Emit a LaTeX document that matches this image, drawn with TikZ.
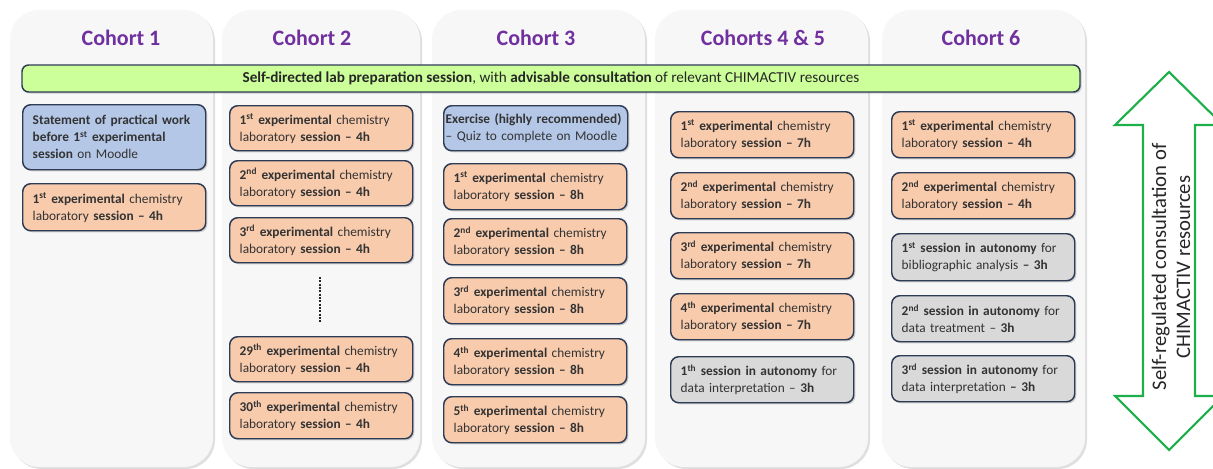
\documentclass[tikz,border=0pt]{standalone}
\usepackage{fontspec}
\setmainfont{Carlito}
\usetikzlibrary{shadows}

\definecolor{panelgray}{HTML}{F7F7F7}
\definecolor{titlepurple}{HTML}{7030A0}
\definecolor{barlime}{HTML}{CCFF99}
\definecolor{edgenavy}{HTML}{2E3B55}
\definecolor{moodleblue}{HTML}{B4C7E7}
\definecolor{labpeach}{HTML}{F8CBAD}
\definecolor{soloGray}{HTML}{D9D9D9}
\definecolor{arrowgreen}{HTML}{1DB04A}

\newcommand{\nth}[2]{#1\textsuperscript{#2}}

\begin{document}
\begin{tikzpicture}[line cap=round,line join=round,x=0.75pt,y=-0.75pt,
  panel/.style={fill=panelgray,rounded corners=22pt,
    drop shadow={shadow xshift=1.5pt,shadow yshift=-1.5pt,opacity=.25}},
  cohort/.style={font=\fontsize{16.5}{20}\selectfont\bfseries,text=titlepurple},
  sess/.style={draw=edgenavy,line width=1.1pt,rounded corners=6pt,anchor=north west,
    align=left,text width=122.25pt,inner xsep=7.5pt,inner ysep=2pt,minimum height=34.5pt,
    font=\fontsize{10}{12.75}\selectfont,text=black!80,
    drop shadow={shadow xshift=1.2pt,shadow yshift=-1.2pt,opacity=.35}},
  lab/.style={sess,fill=labpeach},
  moodle/.style={sess,fill=moodleblue},
  solo/.style={sess,fill=soloGray}]
\useasboundingbox (0,0) rectangle (1213,468);
\clip (0,0) rectangle (1213,468);

% cohort panels
\path[panel] (10,10) rectangle (213,467);
\path[panel] (222,10) rectangle (420,467);
\path[panel] (432,10) rectangle (645,467);
\path[panel] (655,10) rectangle (868,467);
\path[panel] (882,10) rectangle (1085,467);

\node[cohort] (c1) at (121,38) {Cohort 1};
\node[cohort] (c2) at (312,38) {Cohort 2};
\node[cohort] (c3) at (536,38) {Cohort 3};
\node[cohort] (c45) at (763,38) {Cohorts 4 \& 5};
\node[cohort] (c6) at (981,38) {Cohort 6};

% preparation bar
\node[draw=edgenavy,line width=1.1pt,fill=barlime,rounded corners=5pt,
  minimum width=793.5pt,minimum height=20.25pt,inner sep=0pt,
  font=\fontsize{11.4}{13}\selectfont,text=black!85,
  drop shadow={shadow xshift=1.2pt,shadow yshift=-1.2pt,opacity=.35}] (prep) at (551,78.5)
  {\textbf{Self-directed lab preparation session}, with \textbf{advisable consultation} of relevant CHIMACTIV resources};

% cohort 1
\node[moodle,minimum height=48.75pt] (a1) at (22,104)
  {\textbf{Statement of practical work}\\\textbf{before \nth{1}{st} experimental}\\\textbf{session} on Moodle};
\node[lab,minimum height=35.25pt] (a2) at (22,183)
  {\textbf{\nth{1}{st} experimental} chemistry\\laboratory \textbf{session -- 4h}};

% cohort 2
\node[lab,minimum height=33.75pt] (b1) at (229,105)
  {\textbf{\nth{1}{st} experimental} chemistry\\laboratory \textbf{session -- 4h}};
\node[lab,minimum height=33.75pt] (b2) at (229,160)
  {\textbf{\nth{2}{nd} experimental} chemistry\\laboratory \textbf{session -- 4h}};
\node[lab,minimum height=33.75pt] (b3) at (229,217)
  {\textbf{\nth{3}{rd} experimental} chemistry\\laboratory \textbf{session -- 4h}};
\node[lab,minimum height=33.75pt] (b29) at (229,336)
  {\textbf{\nth{29}{th} experimental} chemistry\\laboratory \textbf{session -- 4h}};
\node[lab] (b30) at (229,392)
  {\textbf{\nth{30}{th} experimental} chemistry\\laboratory \textbf{session -- 4h}};
\coordinate (gapA) at (320,277);
\coordinate (gapB) at (320,323);
\draw[line width=1.6pt,line cap=butt,dash pattern=on 1.4pt off 1.1pt,black!85] (gapA) -- (gapB);

% cohort 3
\node[moodle,minimum height=33.75pt,inner xsep=1.5pt,text width=135pt] (e0) at (443,105)
  {\textbf{Exercise (highly recommended)}\\-- Quiz to complete on Moodle};
\node[lab] (e1) at (443,163)
  {\textbf{\nth{1}{st} experimental} chemistry\\laboratory \textbf{session -- 8h}};
\node[lab] (e2) at (443,218)
  {\textbf{\nth{2}{nd} experimental} chemistry\\laboratory \textbf{session -- 8h}};
\node[lab] (e3) at (443,277)
  {\textbf{\nth{3}{rd} experimental} chemistry\\laboratory \textbf{session -- 8h}};
\node[lab] (e4) at (443,338)
  {\textbf{\nth{4}{th} experimental} chemistry\\laboratory \textbf{session -- 8h}};
\node[lab] (e5) at (443,396)
  {\textbf{\nth{5}{th} experimental} chemistry\\laboratory \textbf{session -- 8h}};

% cohorts 4 & 5
\node[lab] (f1) at (670,111)
  {\textbf{\nth{1}{st} experimental} chemistry\\laboratory \textbf{session -- 7h}};
\node[lab] (f2) at (670,172)
  {\textbf{\nth{2}{nd} experimental} chemistry\\laboratory \textbf{session -- 7h}};
\node[lab] (f3) at (670,232)
  {\textbf{\nth{3}{rd} experimental} chemistry\\laboratory \textbf{session -- 7h}};
\node[lab] (f4) at (670,293)
  {\textbf{\nth{4}{th} experimental} chemistry\\laboratory \textbf{session -- 7h}};
\node[solo] (f5) at (670,356)
  {\textbf{\nth{1}{th} session in autonomy} for\\data interpretation -- \textbf{3h}};

% cohort 6
\node[lab] (g1) at (891,111)
  {\textbf{\nth{1}{st} experimental} chemistry\\laboratory \textbf{session -- 4h}};
\node[lab] (g2) at (891,172)
  {\textbf{\nth{2}{nd} experimental} chemistry\\laboratory \textbf{session -- 4h}};
\node[solo,minimum height=35.25pt] (g3) at (891,233)
  {\textbf{\nth{1}{st} session in autonomy} for\\bibliographic analysis \textbf{-- 3h}};
\node[solo] (g4) at (891,295)
  {\textbf{\nth{2}{nd} session in autonomy} for\\data treatment -- \textbf{3h}};
\node[solo] (g5) at (891,355)
  {\textbf{\nth{3}{rd} session in autonomy} for\\data interpretation \textbf{-- 3h}};

% self-regulated consultation arrow
\draw[arrowgreen,line width=1.6pt,line join=miter] (1169,72) -- (1223,125) -- (1195,125) -- (1195,396)
  -- (1223,396) -- (1169,450) -- (1115,396) -- (1143,396) -- (1143,125) -- (1115,125) -- cycle;
\node[rotate=90,align=center,font=\fontsize{15.5}{18}\selectfont,text=black!85] (selfreg) at (1171,267)
  {Self-regulated consultation of\\CHIMACTIV resources};
\end{tikzpicture}
\end{document}
